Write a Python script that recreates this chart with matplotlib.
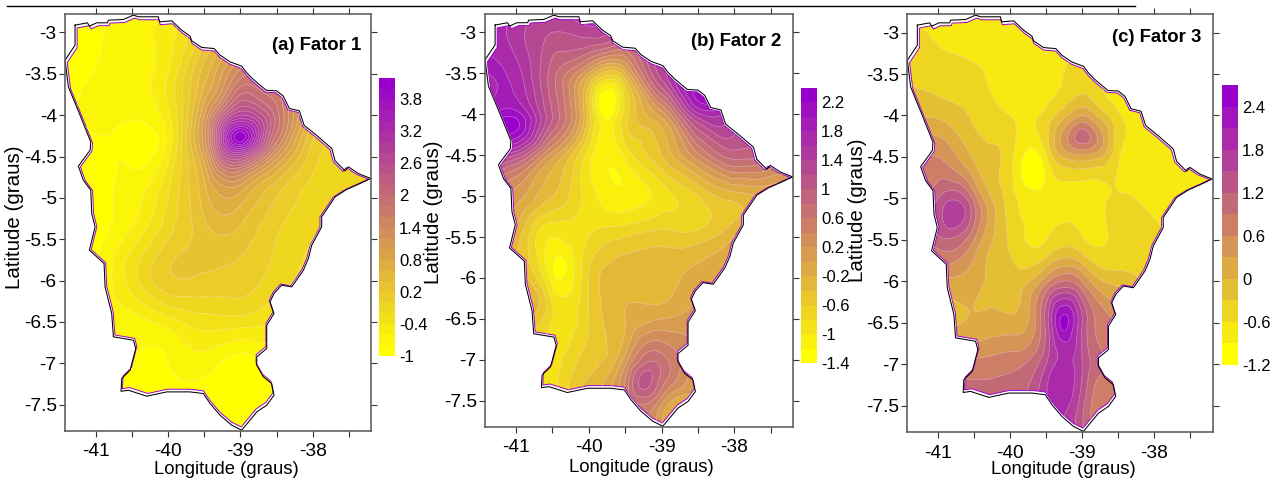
import matplotlib
matplotlib.use('Agg')
import matplotlib.pyplot as plt
import matplotlib.tri as mtri
import numpy as np
from matplotlib.colors import BoundaryNorm, LinearSegmentedColormap, ListedColormap
from matplotlib.lines import Line2D
from matplotlib.patches import Polygon

plt.rcParams['font.family'] = ['Liberation Sans', 'DejaVu Sans']

W, H = 1279, 482

border_lon = [-41.286, -41.115, -41.088, -40.986, -40.839, -40.825, -40.618, -40.479, -40.410, -40.134, -40.120,
              -39.949, -39.811, -39.696, -39.673, -39.535, -39.364, -39.281, -39.143, -38.982, -38.912, -38.820,
              -38.645, -38.498, -38.406, -38.323, -38.184, -38.120, -37.922, -37.737, -37.691, -37.553, -37.507,
              -37.369, -37.198, -37.346, -37.530, -37.691, -37.783, -37.876, -37.876, -38.014, -38.060, -38.129,
              -38.290, -38.429, -38.535, -38.590, -38.535, -38.636, -38.636, -38.774, -38.774, -38.682, -38.567,
              -38.535, -38.636, -38.774, -38.982, -39.120, -39.281, -39.419, -39.512, -39.696, -40.018, -40.295,
              -40.548, -40.650, -40.641, -40.525, -40.447, -40.479, -40.756, -40.779, -40.871, -40.885,
              -41.088, -41.009, -41.055, -41.069, -41.171, -41.240, -41.078, -41.069, -41.217, -41.378, -41.424,
              -41.286, -41.286]
border_lat = [-2.911, -2.883, -2.923, -2.883, -2.883, -2.851, -2.843, -2.790, -2.810, -2.810, -2.871,
              -2.859, -2.972, -3.044, -3.101, -3.181, -3.194, -3.274, -3.355, -3.407, -3.488, -3.569,
              -3.698, -3.706, -3.770, -3.919, -3.948, -4.121, -4.262, -4.403, -4.552, -4.673, -4.625,
              -4.706, -4.766, -4.827, -4.899, -4.988, -5.109, -5.230, -5.351, -5.573, -5.734, -5.875,
              -6.077, -6.056, -6.157, -6.258, -6.399, -6.540, -6.823, -6.923, -7.024, -7.165, -7.246,
              -7.387, -7.508, -7.589, -7.810, -7.750, -7.629, -7.488, -7.367, -7.347, -7.347, -7.399,
              -7.327, -7.340, -7.185, -7.085, -6.823, -6.722, -6.681, -6.399, -6.077, -5.794,
              -5.633, -5.351, -5.190, -4.907, -4.786, -4.617, -4.423, -4.323, -4.000, -3.657, -3.335,
              -3.153, -2.911]

grid_lon = [-41.5, -41, -40.5, -40, -39.5, -39, -38.5, -38, -37.5, -37]
grid_lat = [-2.5, -3, -3.5, -4, -4.5, -5, -5.5, -6, -6.5, -7, -7.5, -8]

fator1 = [[-.9, -.85, -.7, -.5, .1, .6, .8, .6, .3, .1],
          [-.9, -.85, -.65, -.5, .1, .8, 1.0, .7, .4, .1],
          [-.9, -.78, -.65, -.4, .5, 1.5, 1.5, 1.0, .5, .2],
          [-.9, -.75, -.78, -.45, 1.0, 2.8, 1.9, .5, .1, 0],
          [-.9, -.85, -.85, -.45, .9, 2.6, 1.1, .1, -.1, -.2],
          [-.9, -.85, -.7, -.2, .5, .7, .2, -.1, -.2, -.3],
          [-.9, -.85, -.5, 0, .3, .3, 0, -.2, -.3, -.4],
          [-.85, -.75, -.3, .15, .15, .1, -.1, -.3, -.4, -.4],
          [-.85, -.75, -.7, -.5, -.3, -.3, -.4, -.5, -.5, -.5],
          [-.9, -.8, -.8, -.8, -.7, -.9, -.7, -.6, -.6, -.6],
          [-.9, -.9, -.9, -.9, -.95, -.95, -.8, -.7, -.7, -.7],
          [-.9, -.9, -.9, -.95, -.95, -.95, -.9, -.8, -.8, -.8]]
fator1_extra_lon = [-39, -39, -39, -39.25, -38.75, -39.25, -38.75, -39.25, -39, -38.75, -39.25, -38.75, -40.3, -40.7,
                    -40.15]
fator1_extra_lat = [-4.27, -4.15, -4.38, -4.25, -4.25, -4.6, -4.6, -3.75, -3.75, -3.75, -4.02, -4.02, -4.2, -4.25,
                    -4.35]
fator1_extra_val = [4.15, 3.7, 3.6, 2.9, 3.0, 1.8, 1.4, 1.3, 2.0, 1.9, 2.2, 2.6, -.85, -.82, -.82]

fator2 = [[1.8, 1.7, 1.5, 1.9, 1.6, 1.3, 1.7, 1.7, 1.4, 1.0],
          [1.8, 1.5, 1.2, 1.3, 1.0, 1.2, 1.7, 1.7, 1.3, 1.0],
          [1.8, 1.7, .9, 0, -.2, 1.3, 1.7, 1.6, 1.1, .7],
          [1.9, 2.1, 1.0, -.5, -.7, .1, 1.55, 1.4, .8, .4],
          [1.4, 1.2, .1, -.9, -.95, -.4, .35, .9, .7, .4],
          [.6, .1, -.4, -.9, -1.15, -.9, -.6, -.3, -.2, 0],
          [0, -.3, -1.0, -.8, -.6, -.5, -.5, -.2, 0, 0],
          [0, -.3, -1.1, -.6, -.3, -.3, -.1, 0, 0, 0],
          [0, -.3, -.8, -.6, -.2, 0, .1, .1, .1, .1],
          [-.8, -.9, -.9, -.5, .1, .7, .2, .1, .1, .1],
          [-.9, -.9, -.9, -.3, .3, .3, -.1, -.1, 0, 0],
          [-.9, -.9, -.9, -.3, .3, .3, -.1, -.1, 0, 0]]
fator2_extra_lon = [-39.77, -39.77, -39.28, -39.05, -41.0, -38.5, -40.38, -40.38, -40.7, -39.7, -39.7, -39.7]
fator2_extra_lat = [-3.8, -3.25, -7.3, -7.0, -4.05, -3.8, -5.95, -5.65, -6.2, -4.25, -4.5, -4.75]
fator2_extra_val = [-1.35, .6, 1.05, .75, 2.2, 2.05, -1.25, -1.1, -.4, -1.05, -1.15, -1.2]

fator3 = [[-.7, -.7, -.75, -.75, -.75, -.75, -.75, -.75, -.75, -.75],
          [-.5, -.65, -.75, -.75, -.75, -.75, -.75, -.75, -.75, -.75],
          [-.3, -.45, -.55, -.75, -.75, -.5, -.75, -.75, -.75, -.75],
          [-.1, -.05, -.35, -.6, -.5, .3, -.55, -.7, -.75, -.75],
          [.5, .6, -.05, -.5, -.65, .2, -.55, -.75, -.75, -.8],
          [1.2, 1.2, .8, -.45, -.75, -.75, -.55, -.7, -.75, -.8],
          [1.1, 1.1, .6, -.35, -.6, -.55, -.5, -.5, -.7, -.7],
          [.2, .2, .1, -.15, .5, .6, -.1, -.4, -.5, -.5],
          [-.1, -.1, .05, .1, 1.3, 1.5, .6, 0, 0, 0],
          [.6, .7, .7, .8, 1.5, 1.5, .9, .5, .5, .5],
          [1.1, 1.1, 1.0, 1.0, 1.7, 1.3, .7, .6, .6, .6],
          [1.1, 1.1, 1.0, 1.0, 1.7, 1.3, .7, .6, .6, .6]]
fator3_extra_lon = [-39.27, -39.35, -40.7, -39.0, -39.65, -39.27, -38.7, -39.5, -39.0, -38.7, -39.28, -38.72,
                    -39.2, -38.8, -39.2, -38.8]
fator3_extra_lat = [-6.43, -7.3, -5.15, -4.27, -4.6, -6.7, -7.4, -5.75, -5.75, -5.9, -4.27, -4.27,
                    -4.07, -4.07, -4.47, -4.47]
fator3_extra_val = [2.45, 2.05, 1.65, 1.05, -1.1, 2.15, .65, -.2, -.1, -.2, .35, .35, .2, .2, .2, .2]

levels1 = [-1 + .2 * i for i in range(27)]
levels2 = [-1.4 + .2 * i for i in range(20)]
levels3 = [-1.2 + .3 * i for i in range(14)]
cbar_labels1 = ['-1', '-0.4', '0.2', '0.8', '1.4', '2', '2.6', '3.2', '3.8']
cbar_labels2 = ['-1.4', '-1', '-0.6', '-0.2', '0.2', '0.6', '1', '1.4', '1.8', '2.2']
cbar_labels3 = ['-1.2', '-0.6', '0', '0.6', '1.2', '1.8', '2.4']

x_ticks = [-41, -40.5, -40, -39.5, -39, -38.5, -38, -37.5]
x_ticklabels = ['-41', '', '-40', '', '-39', '', '-38', '']
y_ticks = [-3, -3.5, -4, -4.5, -5, -5.5, -6, -6.5, -7, -7.5]
y_ticklabels = ['-3', '-3.5', '-4', '-4.5', '-5', '-5.5', '-6', '-6.5', '-7', '-7.5']

FRAME = '#555555'
cmap_base = LinearSegmentedColormap.from_list('fator', ['#FFFF00', '#9900CC'])


def px_axes(fig, left, right, top, bottom):
    return fig.add_axes([left / W, 1 - bottom / H, (right - left) / W, (bottom - top) / H])


def panel(fig, box, cbar_box, rows, extra, levels, cbar_labels, step, title, title_pos, xlab_pos, ylab_pos):
    ax = px_axes(fig, *box)
    lon, lat = np.meshgrid(grid_lon, grid_lat)
    x = np.r_[lon.ravel(), extra[0]]
    y = np.r_[lat.ravel(), extra[1]]
    z = np.r_[np.array(rows).ravel(), extra[2]]
    fine, z_fine = mtri.UniformTriRefiner(mtri.Triangulation(x, y)).refine_field(z, subdiv=4)
    z_fine = np.clip(z_fine, levels[0] + 1e-3, levels[-1] - 1e-3)

    colors = cmap_base(np.linspace(0, 1, len(levels) - 1))
    line_colors = colors[1:] * .62 + .38
    fill = ax.tricontourf(fine, z_fine, levels=levels, colors=colors)
    lines = ax.tricontour(fine, z_fine, levels=levels[1:-1], colors=line_colors, linewidths=.5)

    # fill stops slightly inside the border, with a thin purple edge
    bx, by = np.array(border_lon), np.array(border_lat)
    cx, cy = -39.4, -5.2
    mask = Polygon(np.c_[cx + (bx - cx) * .985, cy + (by - cy) * .985], closed=True, fc='none',
                   ec='#A000D0', lw=.7, transform=ax.transData)
    ax.add_patch(mask)
    fill.set_clip_path(mask)
    lines.set_clip_path(mask)
    ax.plot(border_lon, border_lat, color='black', lw=.75)

    ax.set_xlim(-41.425, -37.19)
    ax.set_ylim(-7.82, -2.78)
    ax.set_xticks(x_ticks, x_ticklabels)
    ax.set_yticks(y_ticks, y_ticklabels)
    ax.tick_params(top=True, right=True, length=4, width=.8, color='#333333', labelsize=13.8, pad=2)
    ax.tick_params(axis='x', pad=5)
    for s in ax.spines.values():
        s.set_color(FRAME)
        s.set_linewidth(1.1)

    fig.text(title_pos[0] / W, 1 - title_pos[1] / H, title, ha='right', va='center', fontsize=13.3, fontweight='bold')
    fig.text(xlab_pos[0] / W, 1 - xlab_pos[1] / H, 'Longitude (graus)', ha='center', va='center', fontsize=13.3)
    fig.text(ylab_pos[0] / W, 1 - ylab_pos[1] / H, 'Latitude (graus)', ha='center', va='center', rotation=90,
             fontsize=14.8)

    cax = px_axes(fig, *cbar_box)
    norm = BoundaryNorm(levels, len(levels) - 1)
    cax.pcolormesh([0, 1], levels, np.array(levels[:-1])[:, None], cmap=ListedColormap(colors), norm=norm)
    cax.set_xticks([])
    cax.yaxis.tick_right()
    cax.set_yticks(levels[::step][:len(cbar_labels)], cbar_labels)
    cax.tick_params(length=0, labelsize=12, pad=3)
    for s in cax.spines.values():
        s.set_visible(False)


fig = plt.figure(figsize=(W / 100, H / 100), dpi=100)
fig.add_artist(Line2D([7 / W, 1135 / W], [1 - 5.7 / H] * 2, color='black', lw=1.0, transform=fig.transFigure))

panel(fig, (65, 371.3, 14.3, 431), (379, 395, 78, 355.7), fator1,
      (fator1_extra_lon, fator1_extra_lat, fator1_extra_val), levels1, cbar_labels1, 3,
      '(a) Fator 1', (361.7, 46), (226.7, 470), (15, 217))
panel(fig, (485, 793.3, 14.3, 427), (801, 817, 88, 363.3), fator2,
      (fator2_extra_lon, fator2_extra_lat, fator2_extra_val), levels2, cbar_labels2, 2,
      '(b) Fator 2', (781.7, 41), (641, 468), (433, 212))
panel(fig, (907.3, 1212.7, 14.3, 432.3), (1222, 1238, 85, 364.7), fator3,
      (fator3_extra_lon, fator3_extra_lat, fator3_extra_val), levels3, cbar_labels3, 2,
      '(c) Fator 3', (1201.7, 38), (1063, 470), (858, 210))

fig.savefig('out.png', dpi=100)
